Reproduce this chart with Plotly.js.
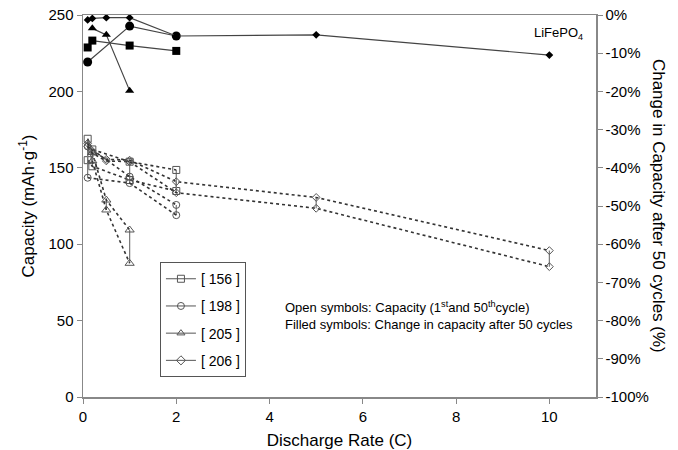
<!DOCTYPE html>
<html>
<head>
<meta charset="utf-8">
<script src="https://cdn.plot.ly/plotly-3.0.1.min.js"></script>
<style>html,body{margin:0;padding:0;background:#fff;}#chart{width:678px;height:450px;}</style>
</head>
<body>
<div id="chart"></div>
<script>
// ---- data ----
const rates156 = [0.1, 0.2, 1, 2];
const cap156First = [169, 162, 154, 148.6];
const cap156Fiftieth = [155, 151, 142, 134.8];
const chg156 = [-8.5, -6.7, -8.0, -9.4];

const rates198 = [0.1, 1, 2];
const cap198First = [164, 144.2, 125.7];
const cap198Fiftieth = [143.5, 140, 119];
const chg198 = [-12.3, -2.9, -5.5];

const rates205 = [0.2, 0.5, 1];
const cap205First = [160, 128.9, 109.3];
const cap205Fiftieth = [154.5, 122.4, 87.5];
const chg205 = [-3.5, -5.2, -19.8];

const rates206 = [0.1, 0.2, 0.5, 1, 2, 5, 10];
const cap206First = [166, 161, 155.6, 155, 140.9, 130.6, 95.8];
const cap206Fiftieth = [164, 159.5, 154.5, 154, 133.7, 123.5, 85.3];
const chg206 = [-1.3, -0.9, -0.7, -0.7, -5.5, -5.2, -10.5];

const seriesNames = ['[ 156 ]', '[ 198 ]', '[ 205 ]', '[ 206 ]'];
const rightTickVals = [0, -10, -20, -30, -40, -50, -60, -70, -80, -90, -100];
const rightTickText = ['0%', '-10%', '-20%', '-30%', '-40%', '-50%', '-60%', '-70%', '-80%', '-90%', '-100%'];

const series = [
  {name: seriesNames[0], x: rates156, a: cap156First, b: cap156Fiftieth, c: chg156, sym: 'square', size: 7, fsize: 8},
  {name: seriesNames[1], x: rates198, a: cap198First, b: cap198Fiftieth, c: chg198, sym: 'circle', size: 7, fsize: 9},
  {name: seriesNames[2], x: rates205, a: cap205First, b: cap205Fiftieth, c: chg205, sym: 'triangle-up', size: 8, fsize: 8},
  {name: seriesNames[3], x: rates206, a: cap206First, b: cap206Fiftieth, c: chg206, sym: 'diamond', size: 6, fsize: 6}
];

const traces = [];
const dotColor = '#333';
const openColor = '#555';
series.forEach(s => {
  // vertical connectors between 1st and 50th cycle
  const vx = [], vy = [];
  s.x.forEach((xv, i) => { vx.push(xv, xv, null); vy.push(s.a[i], s.b[i], null); });
  traces.push({x: vx, y: vy, mode: 'lines', line: {color: '#777', width: 1.2}, showlegend: false, hoverinfo: 'skip'});
  [s.a, s.b].forEach(arr => {
    traces.push({x: s.x, y: arr, mode: 'lines+markers', showlegend: false,
      line: {color: dotColor, width: 1.6, dash: 'dot'},
      marker: {symbol: s.sym + '-open', size: s.size, color: openColor, line: {width: 1, color: openColor}}});
  });
  // filled: change in capacity
  traces.push({x: s.x, y: s.c, yaxis: 'y2', mode: 'lines+markers', showlegend: false,
    line: {color: '#444', width: 1.2},
    marker: {symbol: s.sym, size: s.fsize, color: '#000'}});
});
// legend entries
series.forEach((s, i) => {
  traces.push({x: [null], y: [null], name: s.name, mode: 'lines+markers', legendgroup: 'g' + i,
    line: {color: openColor, width: 1},
    marker: {symbol: s.sym + '-open', size: 7, color: openColor, line: {width: 1, color: openColor}}});
});

const font = {family: 'Liberation Sans, Arial, sans-serif', size: 14, color: '#000'};
const layout = {
  width: 678, height: 450,
  margin: {l: 83, r: 82, t: 15, b: 53},
  paper_bgcolor: '#fff', plot_bgcolor: '#fff',
  font: font,
  showlegend: true,
  legend: {x: 0.15, y: 0.353, xanchor: 'left', yanchor: 'top', bordercolor: '#555', borderwidth: 1,
    bgcolor: '#fff', font: {family: font.family, size: 14}, itemwidth: 30, traceorder: 'grouped', tracegroupgap: 6},
  xaxis: {range: [0, 11], tickvals: [0, 2, 4, 6, 8, 10], showgrid: false, zeroline: false,
    showline: true, linecolor: '#888', linewidth: 1.5, mirror: true, ticks: 'outside', ticklen: 5, tickcolor: '#888',
    tickfont: {size: 15}, title: {text: 'Discharge Rate (C)', font: {size: 17}, standoff: 12}},
  yaxis: {range: [0, 250], tickvals: [0, 50, 100, 150, 200, 250], showgrid: false, zeroline: false,
    showline: true, linecolor: '#888', linewidth: 1.5, ticks: 'outside', ticklen: 5, tickcolor: '#888',
    tickfont: {size: 15}, title: {text: 'Capacity (mAh·g<sup>-1</sup>)', font: {size: 17}, standoff: 9}},
  yaxis2: {overlaying: 'y', side: 'right', range: [-100, 0], tickvals: rightTickVals, ticktext: rightTickText,
    showgrid: false, zeroline: false, showline: true, linecolor: '#888', linewidth: 1.5,
    ticks: 'outside', ticklen: 5, tickcolor: '#888', tickfont: {size: 15}},
  annotations: [
    {xref: 'paper', yref: 'paper', x: 1.123, y: 0.5, xanchor: 'center', yanchor: 'middle',
      text: 'Change in Capacity after 50 cycles (%)', textangle: 90, showarrow: false, font: {size: 17}},
    {xref: 'x', yref: 'y', x: 10.2, y: 238, text: 'LiFePO<sub>4</sub>', showarrow: false, font: {size: 13}},
    {xref: 'x', yref: 'y', x: 4.28, y: 53.5, xanchor: 'left', align: 'left', showarrow: false, font: {size: 13},
      text: 'Open symbols: Capacity (1<sup>st</sup>and 50<sup>th</sup>cycle)<br>Filled symbols: Change in capacity after 50 cycles'}
  ]
};

Plotly.newPlot('chart', traces, layout, {displayModeBar: false, staticPlot: true});
</script>
</body>
</html>
